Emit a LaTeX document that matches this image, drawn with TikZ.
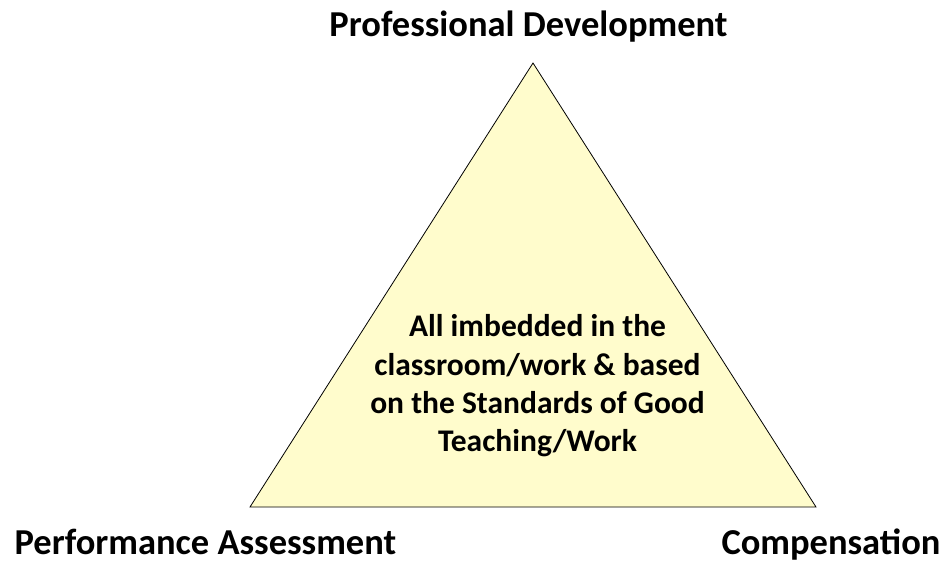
\documentclass[tikz,border=0pt]{standalone}
\usepackage{fontspec}
\setmainfont{Carlito}
\begin{document}
\begin{tikzpicture}[x=1pt,y=-1pt,
  label/.style={font=\bfseries\fontsize{36.5}{44}\selectfont, inner sep=0pt, anchor=base},
  inner/.style={font=\bfseries\fontsize{31.5}{38.3}\selectfont, align=center, inner sep=0pt}]
\useasboundingbox (0,0) rectangle (946,563);
\coordinate (top) at (533,63);
\coordinate (bl) at (250,507);
\coordinate (br) at (816,507);
\filldraw[fill=yellow!20, draw=black, line width=0.8pt, line join=miter] (top) -- (bl) -- (br) -- cycle;
\node[label] (pd) at (528.5,36) {Professional Development};
\node[label] (pa) at (205.5,554) {Performance Assessment};
\node[label] (co) at (831,554) {Compensation};
\node[inner] (txt) at (537.5,386) {All imbedded in the\\classroom/work \& based\\on the Standards of Good\\Teaching/Work};
\end{tikzpicture}
\end{document}
